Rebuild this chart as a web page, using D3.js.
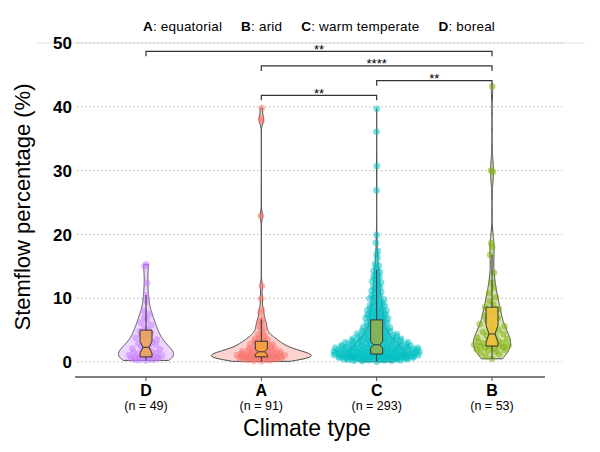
<!DOCTYPE html>
<html>
<head>
<meta charset="utf-8">
<script src="https://cdn.jsdelivr.net/npm/d3@7"></script>
<style>
  body { margin: 0; background: #fff; }
  text { font-family: "Liberation Sans", Arial, sans-serif; }
</style>
</head>
<body>
<svg id="chart" width="600" height="452"></svg>
<script>
// categories in plotting order and their sample sizes
var groups = ["D", "A", "C", "B"];
var countLabels = ["(n = 49)", "(n = 91)", "(n = 293)", "(n = 53)"];
var yTicks = [0, 10, 20, 30, 40, 50];
var legendItems = [["A", "equatorial"], ["B", "arid"], ["C", "warm temperate"], ["D", "boreal"]];

// stemflow percentage values
var valuesD = [0.25,0.30,0.35,0.40,0.45,0.50,0.55,0.60,0.64,0.68,0.72,0.76,0.80,
  0.90,1.00,1.10,1.20,1.30,1.40,1.52,1.65,1.80,1.95,2.10,2.30,
  2.50,2.70,2.90,3.10,3.30,3.50,3.80,4.00,4.30,4.50,4.80,5.00,
  5.40,5.80,6.20,6.60,7.00,7.50,8.00,9.50,10.50,12.40,15.00,15.30];

var valuesA = [0.10,0.18,0.24,0.30,0.34,0.38,0.42,0.45,0.48,0.51,0.54,0.57,0.60,0.62,0.64,0.66,0.68,0.70,0.72,0.74,0.76,0.78,0.80,
  0.83,0.86,0.89,0.92,0.95,0.98,1.01,1.04,1.07,1.10,1.13,1.16,1.19,1.22,1.25,1.29,1.33,1.37,1.41,1.45,1.50,1.55,1.60,
  1.65,1.70,1.75,1.80,1.86,1.92,1.98,2.04,2.11,2.18,2.25,2.33,2.41,2.49,2.57,2.65,2.74,2.83,2.92,3.01,3.10,3.20,
  3.30,3.40,3.50,3.65,3.80,3.95,4.10,4.30,4.50,5.00,5.30,5.60,6.00,6.40,6.70,7.70,8.20,9.90,11.90,22.90,37.80,38.20,39.80];

var valuesC = [0.05,0.12,0.18,0.21,0.24,0.27,0.29,0.31,0.33,0.35,0.37,0.39,
  0.41,0.42,0.44,0.45,0.47,0.49,0.50,0.51,0.53,0.54,0.56,0.57,0.59,
  0.60,0.61,0.62,0.64,0.65,0.66,0.68,0.69,0.70,0.71,0.72,0.74,0.75,0.76,0.78,0.79,
  0.80,0.81,0.82,0.84,0.85,0.86,0.88,0.89,0.90,0.91,0.92,0.94,0.95,0.96,0.98,0.99,
  1.00,1.01,1.02,1.04,1.05,1.06,1.08,1.09,1.11,1.13,1.15,1.17,1.19,1.21,1.22,1.24,1.25,
  1.26,1.28,1.30,1.32,1.34,1.35,1.36,1.38,1.40,1.42,1.43,1.45,1.46,1.48,1.50,1.52,1.53,1.55,
  1.56,1.58,1.60,1.62,1.63,1.65,1.66,1.68,1.70,1.72,1.74,1.76,1.78,1.80,1.82,1.84,
  1.86,1.88,1.90,1.92,1.94,1.96,1.98,2.00,2.02,2.04,2.06,2.08,2.10,2.12,2.14,
  2.16,2.18,2.20,2.22,2.24,2.26,2.28,2.30,2.32,2.34,2.37,2.40,2.42,2.44,
  2.47,2.50,2.52,2.54,2.57,2.60,2.62,2.64,2.67,2.70,
  2.73,2.76,2.79,2.82,2.85,2.88,2.91,2.94,2.97,3.00,
  3.03,3.07,3.10,3.14,3.17,3.21,3.24,3.28,3.31,3.35,3.38,3.42,3.45,3.49,
  3.53,3.57,3.61,3.65,3.69,3.73,3.77,3.81,3.85,3.89,3.93,3.97,
  4.02,4.07,4.12,4.17,4.22,4.27,4.32,4.37,4.42,4.47,
  4.53,4.59,4.65,4.71,4.77,4.83,4.89,4.95,5.03,5.10,5.17,5.24,5.31,5.38,5.45,
  5.54,5.62,5.70,5.78,5.86,5.94,6.05,6.15,6.25,6.35,6.45,6.60,
  6.70,6.75,6.80,6.90,6.95,7.00,7.10,7.15,7.20,7.32,7.38,7.45,
  7.56,7.62,7.68,7.80,7.86,7.92,8.05,8.12,8.18,8.30,8.36,8.42,
  8.55,8.70,8.78,8.85,9.00,9.14,9.21,9.28,9.42,
  9.60,9.78,9.95,10.05,10.12,10.30,10.45,10.62,10.80,10.98,11.15,11.32,11.48,
  11.65,11.85,12.05,12.25,12.45,12.65,12.85,13.05,13.25,13.45,13.65,13.85,14.05,14.25,14.45,
  14.80,15.10,15.40,16.30,16.80,17.40,18.70,19.90,26.90,30.70,36.10,39.70];

var valuesB = [0.50,0.90,1.20,1.40,1.60,1.75,1.90,2.00,2.10,2.20,2.30,2.38,2.44,2.50,
  2.60,2.70,2.80,2.90,3.00,3.15,3.30,3.45,3.60,3.80,4.00,4.20,4.40,
  4.70,5.00,5.30,5.60,5.90,6.20,6.55,6.90,7.25,7.60,7.95,8.30,8.60,
  9.00,9.50,10.10,10.80,11.60,12.40,14.00,16.80,18.00,18.60,29.80,30.00,43.20];

// pairwise comparisons and their significance labels (bottom bracket first)
var comparisons = [["A", "C", "**"], ["C", "B", "**"], ["A", "B", "****"], ["D", "B", "**"]];

var pointColor = { A: "#F8766D", B: "#7CAE00", C: "#00BFC4", D: "#C77CFF" };
var boxColor = { A: "#F7A03A", B: "#EEC03A", C: "#8FB050", D: "#EDA35A" };
var valuesBy = { D: valuesD, A: valuesA, C: valuesC, B: valuesB };

var svg = d3.select("#chart");
var x = d3.scalePoint().domain(groups).range([146, 492]);
var y = d3.scaleLinear().domain([0, 50]).range([362, 43]);

// grid
svg.append("line")
  .attr("x1", 37).attr("x2", 585).attr("y1", y(50)).attr("y2", y(50))
  .attr("stroke", "#e2e2e2").attr("stroke-width", 1.2);
svg.append("g").selectAll("line").data(yTicks).join("line")
  .attr("x1", 77).attr("x2", 562)
  .attr("y1", d => y(d)).attr("y2", d => y(d))
  .attr("stroke", "#b5b5b5").attr("stroke-width", 1)
  .attr("stroke-dasharray", "1.5,2.5");

// y tick labels
svg.append("g").selectAll("text").data(yTicks).join("text")
  .attr("x", 72).attr("y", d => y(d))
  .attr("dy", "0.36em")
  .attr("text-anchor", "end")
  .attr("font-size", 17).attr("font-weight", "bold")
  .text(d => d);

// helpers
function gauss(u) { return Math.exp(-0.5 * u * u) / Math.sqrt(2 * Math.PI); }
function nrd0(v) {
  var sd = d3.deviation(v);
  var iqr = d3.quantile(v, 0.75) - d3.quantile(v, 0.25);
  return 0.9 * Math.min(sd, iqr / 1.34) * Math.pow(v.length, -0.2);
}
function density(v, bw, t) { return d3.mean(v, d => gauss((t - d) / bw)) / bw; }
function vdc(i) {
  var r = 0, f = 0.5;
  while (i > 0) { r += f * (i % 2); i = Math.floor(i / 2); f /= 2; }
  return r;
}

// densities for each group
var stats = groups.map(function(g) {
  var v = valuesBy[g].slice().sort(d3.ascending);
  var bw = nrd0(v);
  var lo = v[0], hi = v[v.length - 1];
  var curve = d3.range(0, 257).map(function(i) {
    var t = lo + (hi - lo) * i / 256;
    return [t, density(v, bw, t)];
  });
  return { g: g, v: v, bw: bw, curve: curve, max: d3.max(curve, d => d[1]) };
});
var globalMax = d3.max(stats, s => s.max);
var halfWidth = d3.scaleLinear().domain([0, globalMax]).range([0, 50]);
var maxN = d3.max(stats, s => s.v.length);

stats.forEach(function(s) {
  var cx = x(s.g);
  var layer = svg.append("g");

  // violin
  layer.append("path")
    .datum(s.curve)
    .attr("d", d3.area()
      .x0(d => cx - halfWidth(d[1]))
      .x1(d => cx + halfWidth(d[1]))
      .y(d => y(d[0])))
    .attr("fill", pointColor[s.g]).attr("fill-opacity", 0.32)
    .attr("stroke", "#4d4d4d").attr("stroke-width", 1);

  // quasirandom points
  var spread = 45 * Math.sqrt(s.v.length / maxN);
  var pts = s.v.map(function(d, i) {
    var off = (vdc(i + 1) - 0.5) * 2 * density(s.v, s.bw, d) / s.max * spread;
    return { x: cx + off, y: d };
  });
  layer.append("g").selectAll("circle").data(pts).join("circle")
    .attr("cx", d => d.x).attr("cy", d => y(d.y))
    .attr("r", 3.3)
    .attr("fill", pointColor[s.g]).attr("fill-opacity", 0.5);

  // notched box plot
  var q1 = d3.quantile(s.v, 0.25), med = d3.quantile(s.v, 0.5), q3 = d3.quantile(s.v, 0.75);
  var iqr = q3 - q1;
  var upper = d3.max(s.v.filter(d => d <= q3 + 1.5 * iqr));
  var lower = d3.min(s.v.filter(d => d >= q1 - 1.5 * iqr));
  var notch = 1.58 * iqr / Math.sqrt(s.v.length);
  var bw = 12, inset = bw / 4;
  var x0 = cx - bw / 2, x1 = cx + bw / 2;

  layer.append("line").attr("x1", cx).attr("x2", cx)
    .attr("y1", y(q3)).attr("y2", y(upper))
    .attr("stroke", "#333").attr("stroke-width", 1);
  layer.append("line").attr("x1", cx).attr("x2", cx)
    .attr("y1", y(q1)).attr("y2", y(lower))
    .attr("stroke", "#333").attr("stroke-width", 1);

  var path = d3.path();
  path.moveTo(x0, y(q3));
  path.lineTo(x1, y(q3));
  path.lineTo(x1, y(med + notch));
  path.lineTo(x1 - inset, y(med));
  path.lineTo(x1, y(med - notch));
  path.lineTo(x1, y(q1));
  path.lineTo(x0, y(q1));
  path.lineTo(x0, y(med - notch));
  path.lineTo(x0 + inset, y(med));
  path.lineTo(x0, y(med + notch));
  path.closePath();
  layer.append("path").attr("d", path.toString())
    .attr("fill", boxColor[s.g]).attr("fill-opacity", 0.9)
    .attr("stroke", "#333").attr("stroke-width", 1);
  layer.append("line")
    .attr("x1", x0 + inset).attr("x2", x1 - inset)
    .attr("y1", y(med)).attr("y2", y(med))
    .attr("stroke", "#333").attr("stroke-width", 1);
});

// significance brackets
var brackets = svg.append("g");
comparisons.forEach(function(c, i) {
  var by = y(41.8 + i * 2.3);
  var xa = x(c[0]), xb = x(c[1]);
  brackets.append("path")
    .attr("d", "M" + xa + "," + (by + 5) + "V" + by + "H" + xb + "V" + (by + 5))
    .attr("fill", "none").attr("stroke", "#333").attr("stroke-width", 1.2);
  brackets.append("text")
    .attr("x", (xa + xb) / 2).attr("y", by + 2.5)
    .attr("text-anchor", "middle").attr("font-size", 13)
    .text(c[2]);
});

// x axis
svg.append("line")
  .attr("x1", 75).attr("x2", 545).attr("y1", 377).attr("y2", 377)
  .attr("stroke", "#555").attr("stroke-width", 1.5);
var xAxis = svg.append("g");
xAxis.selectAll("line").data(groups).join("line")
  .attr("x1", d => x(d)).attr("x2", d => x(d))
  .attr("y1", 377).attr("y2", 381)
  .attr("stroke", "#555").attr("stroke-width", 1);
xAxis.selectAll("text.cat").data(groups).join("text")
  .attr("class", "cat")
  .attr("x", d => x(d)).attr("y", 396)
  .attr("text-anchor", "middle").attr("font-size", 16).attr("font-weight", "bold")
  .text(d => d);
xAxis.selectAll("text.n").data(groups).join("text")
  .attr("class", "n")
  .attr("x", d => x(d)).attr("y", 410)
  .attr("text-anchor", "middle").attr("font-size", 12.5)
  .text((d, i) => countLabels[i]);

// axis titles
svg.append("text")
  .attr("x", 307).attr("y", 436)
  .attr("text-anchor", "middle").attr("font-size", 23)
  .text("Climate type");
svg.append("text")
  .attr("transform", "translate(30,207) rotate(-90)")
  .attr("text-anchor", "middle").attr("font-size", 22)
  .text("Stemflow percentage (%)");

// legend line
var legend = svg.append("text")
  .attr("x", 319).attr("y", 31)
  .attr("text-anchor", "middle").attr("font-size", 13.5)
  .attr("letter-spacing", 0.2);
legendItems.forEach(function(item, i) {
  legend.append("tspan").attr("font-weight", "bold")
    .attr("dx", i === 0 ? 0 : 19).text(item[0]);
  legend.append("tspan").text(": " + item[1]);
});
</script>
</body>
</html>
